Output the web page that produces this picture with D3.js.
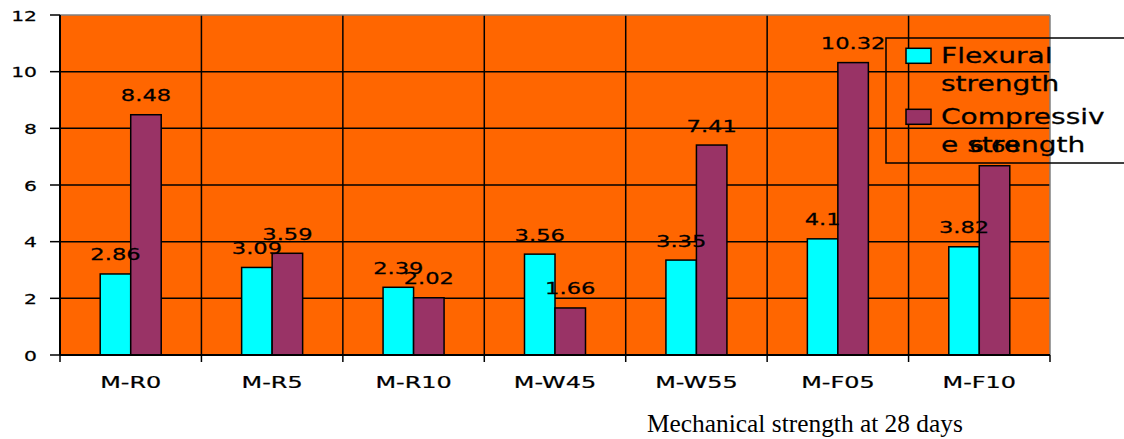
<!DOCTYPE html>
<html><head><meta charset="utf-8">
<script src="https://cdn.jsdelivr.net/npm/d3@7"></script>
<style>body{margin:0;background:#fff}svg{display:block}</style>
</head><body>
<svg id="c" width="1124" height="439"></svg>
<script>
const categories = ["M-R0","M-R5","M-R10","M-W45","M-W55","M-F05","M-F10"];
const flexural = [2.86,3.09,2.39,3.56,3.35,4.1,3.82];
const compressive = [8.48,3.59,2.02,1.66,7.41,10.32,6.68];
const flexLabels = ["2.86","3.09","2.39","3.56","3.35","4.1","3.82"];
const compLabels = ["8.48","3.59","2.02","1.66","7.41","10.32","6.68"];
const yTicks = [0,2,4,6,8,10,12];
const seriesNames = ["Flexural","Compressive"];
const legendLines = [["Flexural","strength"],["Compressiv","e strength"]];
const colors = ["#00FFFF","#993366"];
const title = "Mechanical strength at 28 days";

const svg = d3.select("#c");
const L=60,R=1050,T=15,B=355;
const x = d3.scaleBand().domain(categories).range([L,R]).padding(0);
const y = d3.scaleLinear().domain([0,12]).range([B,T]);
const bw = x.bandwidth();
const sub = d3.scaleBand().domain(seriesNames).range([bw/2-30.5,bw/2+30.5]);
const SX = 1.37;
function stext(g,xx,yy,txt,size,anchor,sx){
  return g.append("text").attr("transform",`translate(${xx},${yy}) scale(${sx||SX},1)`)
   .attr("text-anchor",anchor||"middle").attr("font-family","DejaVu Sans")
   .attr("font-size",size).attr("fill","#000").attr("stroke","#000").attr("stroke-width",0.25).text(txt);
}
// plot background
svg.append("rect").attr("x",L).attr("y",T).attr("width",R-L).attr("height",B-T).attr("fill","#FF6600");
// horizontal gridlines
svg.selectAll(".hg").data(yTicks.filter(v=>v>0&&v<12)).enter().append("line")
 .attr("x1",L).attr("x2",R).attr("y1",d=>y(d)).attr("y2",d=>y(d)).attr("stroke","#000").attr("stroke-width",1.5);
// vertical gridlines at boundaries
const bounds = categories.slice(1).map(c=>x(c));
svg.selectAll(".vg").data(bounds).enter().append("line")
 .attr("x1",d=>d).attr("x2",d=>d).attr("y1",T).attr("y2",B).attr("stroke","#000").attr("stroke-width",1.5);
// border top/right grey
svg.append("line").attr("x1",L).attr("x2",R).attr("y1",T).attr("y2",T).attr("stroke","#808080").attr("stroke-width",1.5);
svg.append("line").attr("x1",R).attr("x2",R).attr("y1",T).attr("y2",B).attr("stroke","#808080").attr("stroke-width",1.5);
// bars
const series=[flexural,compressive];
series.forEach((vals,si)=>{
  svg.selectAll(".b"+si).data(vals).enter().append("rect")
   .attr("x",(d,i)=>x(categories[i])+sub(seriesNames[si]))
   .attr("width",sub.bandwidth())
   .attr("y",d=>y(d)).attr("height",d=>B-y(d))
   .attr("fill",colors[si]).attr("stroke","#000").attr("stroke-width",1.5);
});
// axes
svg.append("line").attr("x1",L).attr("x2",L).attr("y1",T).attr("y2",B).attr("stroke","#000").attr("stroke-width",2);
svg.append("line").attr("x1",L).attr("x2",R).attr("y1",B).attr("y2",B).attr("stroke","#000").attr("stroke-width",2);
yTicks.forEach(v=>{
  svg.append("line").attr("x1",L-10).attr("x2",L).attr("y1",y(v)).attr("y2",y(v)).attr("stroke","#000").attr("stroke-width",1.5);
  stext(svg,37,y(v)+5.5,String(v),14.5,"end",1.4);
});
[L,...bounds,R].forEach(b=>{
  svg.append("line").attr("x1",b).attr("x2",b).attr("y1",B).attr("y2",B+7).attr("stroke","#000").attr("stroke-width",1.5);
});
categories.forEach(c=>stext(svg,x(c)+bw/2,388,c,16.5,"middle",1.45));
// legend
const lg = svg.append("g");
lg.append("rect").attr("x",886).attr("y",38).attr("width",250).attr("height",125).attr("fill","none").attr("stroke","#000").attr("stroke-width",1.5);
seriesNames.forEach((s,i)=>{
  const yy = 48.3 + i*61;
  lg.append("rect").attr("x",906).attr("y",yy).attr("width",25).attr("height",15).attr("fill",colors[i]).attr("stroke","#000").attr("stroke-width",1.5);
  stext(lg,941,yy+15,legendLines[i][0],20.8,"start",1.35);
  stext(lg,941,yy+43,legendLines[i][1],20.8,"start",1.35);
});
// data labels
series.forEach((vals,si)=>{
  const labs = si===0?flexLabels:compLabels;
  vals.forEach((v,i)=>{
    stext(svg,x(categories[i])+sub(seriesNames[si])+sub.bandwidth()/2,y(v)-13.5,labs[i],16.5,"middle",1.37);
  });
});
// title
svg.append("text").attr("x",647).attr("y",432).attr("font-family","Liberation Serif").attr("font-size",25.4).attr("fill","#000").text(title);
</script>
</body></html>
